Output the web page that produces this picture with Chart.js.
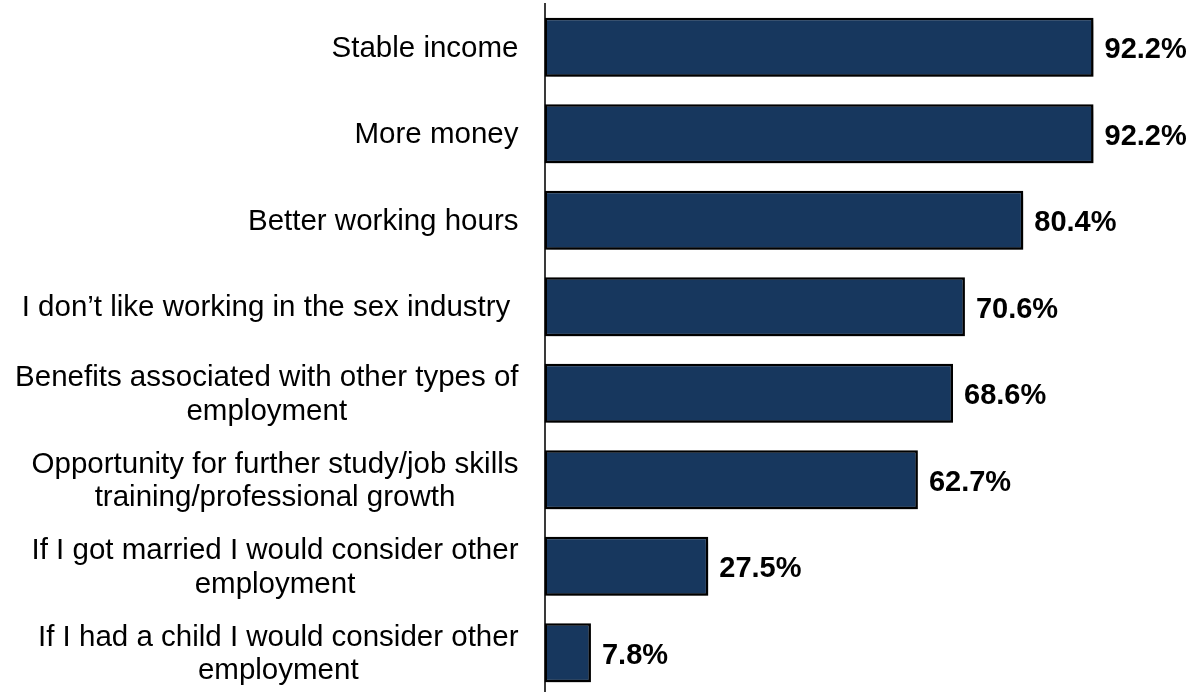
<!DOCTYPE html>
<html>
<head>
<meta charset="utf-8">
<script src="https://cdn.jsdelivr.net/npm/chart.js@4/dist/chart.umd.min.js"></script>
<style>
  html, body { margin: 0; padding: 0; background: #ffffff; overflow: hidden; }
  #wrap { width: 1196px; height: 692px; overflow: hidden; }
  #chart { display: block; }
</style>
</head>
<body>
<div id="wrap"><canvas id="chart" width="1196" height="696"></canvas></div>
<script>
// Reasons for considering other employment (% of respondents)
const categories = [
  ['Stable income'],
  ['More money'],
  ['Better working hours'],
  ['I don\u2019t like working in the sex industry '],
  ['Benefits associated with other types of', 'employment'],
  ['Opportunity for further study/job skills', 'training/professional growth'],
  ['If I got married I would consider other', 'employment'],
  ['If I had a child I would consider other', 'employment']
];
const percentages = [92.2, 92.2, 80.4, 70.6, 68.6, 62.7, 27.5, 7.8];
const valueLabels = ['92.2%', '92.2%', '80.4%', '70.6%', '68.6%', '62.7%', '27.5%', '7.8%'];

const FONT = '"Liberation Sans", Arial, Helvetica, sans-serif';

// Soft drop shadow under the bars
const barShadow = {
  id: 'barShadow',
  beforeDatasetsDraw(chart) {
    const ctx = chart.ctx;
    ctx.save();
    ctx.shadowColor = 'rgba(0,0,0,0.5)';
    ctx.shadowBlur = 7;
    ctx.shadowOffsetX = 2;
    ctx.shadowOffsetY = 4;
  },
  afterDatasetsDraw(chart) {
    chart.ctx.restore();
  }
};

// Category names: each block right-aligned to the axis, its lines centred on one another
const categoryText = {
  id: 'categoryText',
  afterDraw(chart) {
    const ctx = chart.ctx;
    const yScale = chart.scales.y;
    const right = chart.chartArea.left - 26;
    const lineH = 33.5;
    ctx.save();
    ctx.font = '29.5px ' + FONT;
    ctx.fillStyle = '#000000';
    ctx.textAlign = 'center';
    ctx.textBaseline = 'alphabetic';
    categories.forEach((lines, i) => {
      const yc = yScale.getPixelForValue(i);
      const w = Math.max(...lines.map(l => ctx.measureText(l).width));
      const cx = right - w / 2;
      lines.forEach((line, j) => {
        const y = yc + (j - (lines.length - 1) / 2) * lineH + 9.5;
        ctx.fillText(line, cx, y);
      });
    });
    ctx.restore();
  }
};

// Percentage printed just past the end of each bar
const valueText = {
  id: 'valueText',
  afterDatasetsDraw(chart) {
    const ctx = chart.ctx;
    const meta = chart.getDatasetMeta(0);
    ctx.save();
    ctx.font = 'bold 29px ' + FONT;
    ctx.fillStyle = '#000000';
    ctx.textAlign = 'left';
    ctx.textBaseline = 'alphabetic';
    meta.data.forEach((bar, i) => {
      ctx.fillText(valueLabels[i], bar.x + 11, bar.y + 11);
    });
    ctx.restore();
  }
};

new Chart(document.getElementById('chart'), {
  type: 'bar',
  data: {
    labels: categories,
    datasets: [{
      data: percentages,
      backgroundColor: '#17375e',
      borderColor: '#000000',
      borderWidth: 2.5,
      borderSkipped: false,
      barPercentage: 0.682,
      categoryPercentage: 1
    }]
  },
  options: {
    indexAxis: 'y',
    responsive: false,
    animation: false,
    layout: { padding: { top: 4, bottom: 0, left: 0, right: 56 } },
    plugins: {
      legend: { display: false },
      tooltip: { enabled: false }
    },
    scales: {
      x: {
        display: false,
        min: 0,
        max: 100
      },
      y: {
        display: true,
        ticks: { display: false },
        grid: { display: false, drawTicks: false },
        border: { display: true, color: '#3a3a3a', width: 2 },
        afterFit(scale) { scale.width = 544.5; }
      }
    }
  },
  plugins: [barShadow, valueText, categoryText]
});
</script>
</body>
</html>
